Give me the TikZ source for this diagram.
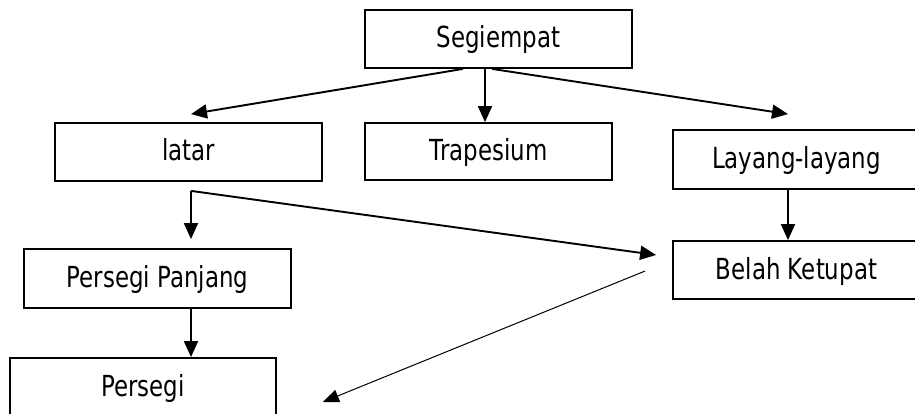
\documentclass[tikz,border=0pt]{standalone}
\usepackage{fontspec}
\newfontfamily\lab{DejaVu Sans}[FakeStretch=0.79]
\usetikzlibrary{arrows.meta}
\begin{document}
\begin{tikzpicture}[x=1pt,y=-1pt,
  box/.style={draw,line width=1.8pt,inner sep=0pt,minimum height=58pt,
    font=\lab\fontsize{29}{34}\selectfont,text height=24pt,text depth=6pt},
  arr/.style={line width=1.9pt,-{Triangle[length=16pt,width=14pt]}},
  thinarr/.style={line width=1pt,-{Triangle[length=16pt,width=13pt]}}]
\clip (0,0) rectangle (915,414);
\fill[white] (0,0) rectangle (915,414);
\node[box,minimum width=267pt] (seg) at (498.5,39) {Segiempat};
\node[box,minimum width=267pt] (latar) at (188.5,152) {latar};
\node[box,minimum width=247pt,minimum height=57pt] (trap) at (488.5,151.5) {Trapesium};
\node[box,minimum width=247pt,minimum height=59pt] (lay) at (796.5,159.5) {Layang-layang};
\node[box,minimum width=247pt] (bel) at (796.5,270) {Belah Ketupat};
\node[box,minimum width=267pt,minimum height=59pt] (pp) at (157.5,278.5) {Persegi Panjang};
\node[box,minimum width=266pt] (ps) at (143,387) {Persegi};
\coordinate (c1) at ([xshift=2.5pt,yshift=-9pt]latar.south);
\draw[arr] ([xshift=-35.5pt]seg.south) -- ([xshift=2.5pt,yshift=8pt]latar.north);
\draw[arr] ([xshift=-13.5pt]seg.south) -- ([xshift=-3.5pt]trap.north);
\draw[arr] ([xshift=-6.5pt]seg.south) -- ([xshift=-8.5pt,yshift=15pt]lay.north);
\draw[arr] ([xshift=-8.5pt]lay.south) -- ([xshift=-8.5pt]bel.north);
\draw[arr] (c1) -- ([xshift=33.5pt,yshift=9pt]pp.north);
\draw[arr] (c1) -- ([xshift=-16pt,yshift=15pt]bel.west);
\draw[arr] ([xshift=33.5pt]pp.south) -- ([xshift=48pt]ps.north);
\draw[thinarr] ([xshift=-27pt,yshift=-1pt]bel.west) -- ([xshift=46pt,yshift=-15pt]ps.east);
\end{tikzpicture}
\end{document}
